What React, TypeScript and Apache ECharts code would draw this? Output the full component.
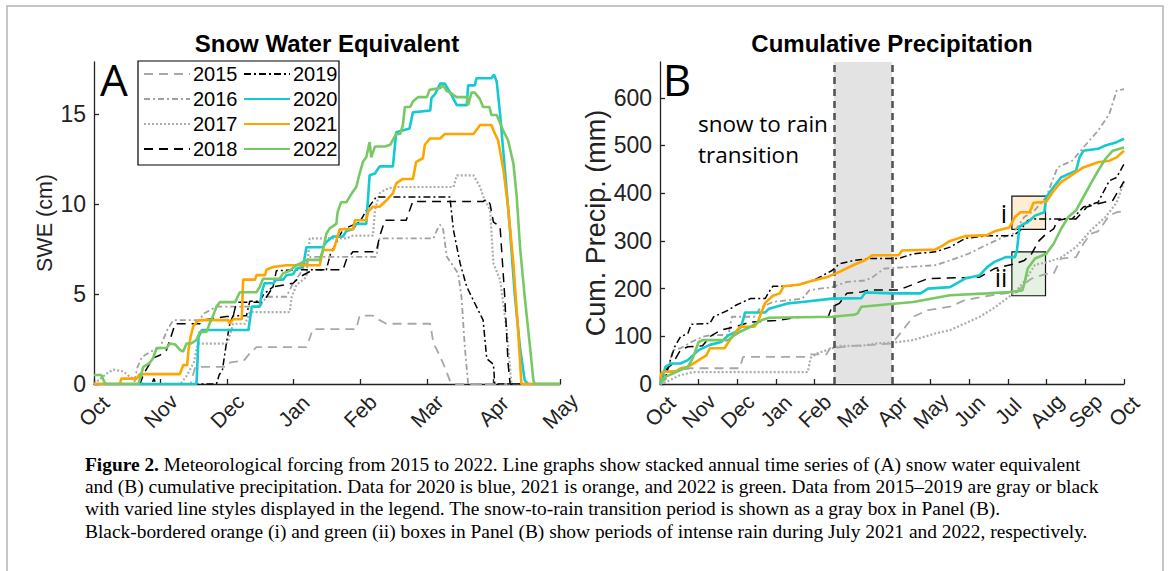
import React, { useEffect, useRef } from 'react';
import * as echarts from 'echarts';

// ---------- DATA ----------
const YEARS = ['2015', '2016', '2017', '2018', '2019', '2020', '2021', '2022'];
const SWE_MONTHS = ['Oct', 'Nov', 'Dec', 'Jan', 'Feb', 'Mar', 'Apr', 'May'];
const PRECIP_MONTHS = ['Oct', 'Nov', 'Dec', 'Jan', 'Feb', 'Mar', 'Apr', 'May', 'Jun', 'Jul', 'Aug', 'Sep', 'Oct'];
const SWE_TICKS = [0, 5, 10, 15];
const PRECIP_TICKS = [0, 100, 200, 300, 400, 500, 600];
const SWE_MAX = 17.9;
const PRECIP_MAX = 675;

// x = months since Oct 1, y = SWE (cm)
const swe2015 = [[0,0],[1.45,0],[1.52,0.95],[1.99,0.95],[2.05,1.2],[2.25,1.3],[2.34,1.7],[2.44,2.05],[3.19,2.05],[3.29,3.05],[3.94,3.05],[3.99,3.8],[4.19,3.8],[4.29,3.55],[4.39,3.35],[5.05,3.35],[5.1,2.25],[5.15,1.9],[5.245,1.15],[5.345,0.2],[5.395,0],[7,0]];
const swe2016 = [[0,0],[0.6,0],[0.65,0.9],[0.72,1.5],[0.85,1.8],[0.99,2.0],[1.1,3.0],[1.19,3.55],[1.59,3.55],[1.64,3.9],[1.84,4.3],[2.49,4.3],[2.59,4.85],[2.89,4.85],[2.99,5.6],[3.09,6.1],[3.25,7.07],[4.24,7.07],[4.29,8.1],[5.1,8.1],[5.15,8.55],[5.2,8.85],[5.245,8.6],[5.3,7.07],[5.37,6.7],[5.47,6.15],[5.52,4.85],[5.57,2.07],[5.62,0],[7,0]];
const swe2017 = [[0,0],[0.1,0.3],[0.2,0.6],[0.29,0.8],[0.44,0.7],[0.54,0.4],[0.64,0.2],[0.74,0],[1.3,0],[1.4,0.5],[1.5,1.2],[1.56,2.25],[1.99,2.25],[2.02,2.45],[2.09,3.35],[2.27,3.35],[2.34,4.0],[2.94,4.0],[2.97,4.85],[3.04,5.5],[3.19,5.95],[3.24,8.1],[3.79,8.1],[3.89,8.25],[4.19,8.25],[4.22,9.65],[4.29,10.6],[4.37,10.8],[4.49,10.95],[5.4,10.95],[5.45,11.6],[5.7,11.6],[5.8,10.95],[5.85,10.4],[5.95,9.65],[6.0,6.7],[6.1,5.8],[6.2,3.0],[6.27,0],[7,0]];
const swe2018 = [[0,0],[0.69,0],[0.75,0.6],[0.84,1.15],[0.89,1.45],[0.99,1.6],[1.09,1.9],[1.14,2.45],[1.22,3.35],[1.59,3.35],[1.64,3.55],[1.99,3.75],[2.09,3.75],[2.14,4.55],[2.54,4.55],[2.69,5.4],[2.99,5.6],[3.09,5.95],[3.29,6.35],[3.74,6.35],[3.79,6.9],[3.89,7.35],[4.24,7.35],[4.29,8.2],[4.37,9.1],[4.69,9.1],[4.74,9.65],[4.79,10.15],[5.85,10.15],[5.9,10.3],[5.95,10.0],[6.0,9.0],[6.1,8.75],[6.17,4.85],[6.22,1.15],[6.25,0],[7,0]];
const swe2019 = [[0,0],[0.87,0],[0.9,0.3],[0.93,0],[1.84,0],[1.88,0.5],[1.93,0.8],[1.99,2.3],[2.04,3.35],[2.09,3.8],[2.29,3.8],[2.34,4.6],[2.49,4.6],[2.55,5.0],[2.69,5.4],[2.74,6.3],[3.09,6.35],[3.49,6.35],[3.55,7.2],[3.74,8.6],[3.99,9.0],[4.1,9.7],[4.24,10.4],[5.345,10.4],[5.4,8.55],[5.5,6.7],[5.6,5.4],[5.745,4.3],[5.845,3.55],[5.9,1.4],[6.0,1.1],[6.02,0],[7,0]];
const swe2020 = [[0,0],[1.54,0],[1.57,2.6],[1.62,3.0],[2.32,3.0],[2.37,4.3],[2.49,4.3],[2.52,5.1],[2.56,5.6],[2.69,5.6],[2.74,5.8],[2.84,5.8],[2.89,6.05],[2.99,6.1],[3.04,6.4],[3.14,6.5],[3.19,7.6],[3.44,7.6],[3.49,7.9],[3.59,8.2],[3.74,8.2],[3.79,8.5],[3.89,8.6],[3.94,8.9],[4.09,8.9],[4.14,11.6],[4.22,11.7],[4.29,12.1],[4.49,12.1],[4.54,14.0],[4.74,14.2],[4.79,15.1],[5.05,15.2],[5.07,15.9],[5.12,16.1],[5.2,16.7],[5.27,16.7],[5.35,16.2],[5.45,15.5],[5.6,15.5],[5.62,16.6],[5.72,16.6],[5.745,17.0],[5.97,17.0],[6.01,17.2],[6.05,16.8],[6.1,15.0],[6.17,12.0],[6.25,8.5],[6.32,5.0],[6.4,2.0],[6.47,0.2],[6.52,0],[7,0]];
const swe2021 = [[0,0],[0.39,0],[0.41,0.3],[0.64,0.3],[0.69,0.55],[1.29,0.55],[1.34,1.05],[1.4,1.05],[1.42,1.9],[1.45,2.6],[1.49,3.2],[1.54,3.45],[1.59,3.55],[2.02,3.55],[2.04,3.35],[2.09,3.6],[2.22,3.6],[2.24,5.8],[2.42,5.8],[2.44,6.05],[2.57,6.05],[2.59,6.35],[2.69,6.5],[2.89,6.6],[3.39,6.6],[3.44,7.45],[3.6,7.45],[3.69,8.6],[3.89,8.6],[3.92,9.1],[4.09,9.1],[4.12,9.6],[4.19,9.85],[4.29,9.85],[4.39,10.2],[4.49,10.6],[4.54,11.15],[4.64,11.4],[4.79,11.4],[4.84,12.35],[4.94,12.55],[4.97,13.3],[5.05,13.65],[5.2,13.65],[5.27,13.9],[5.7,13.9],[5.8,14.4],[5.97,14.4],[6.0,14.1],[6.07,13.55],[6.15,11.9],[6.22,9.85],[6.3,6.7],[6.37,3.0],[6.42,0],[7,0]];
const swe2022 = [[0,0.5],[0.11,0.5],[0.17,0],[0.67,0],[0.74,0.95],[0.83,1.15],[0.89,1.45],[0.94,2.0],[1.09,2.0],[1.14,2.25],[1.22,2.2],[1.29,1.9],[1.34,1.8],[1.39,2.25],[1.46,2.25],[1.54,2.45],[1.59,2.9],[1.69,2.9],[1.74,3.4],[1.79,3.8],[1.84,4.3],[1.89,4.55],[2.12,4.55],[2.19,5.1],[2.44,5.1],[2.49,5.4],[2.54,5.85],[2.79,5.85],[2.84,6.15],[2.94,6.3],[3.04,6.6],[3.1,6.7],[3.2,6.9],[3.39,6.9],[3.44,7.45],[3.49,8.35],[3.54,8.65],[3.64,8.9],[3.66,9.55],[3.71,10.1],[3.79,10.1],[3.84,10.4],[3.89,10.7],[3.94,10.95],[3.99,11.7],[4.04,12.35],[4.09,12.6],[4.14,13.45],[4.165,12.6],[4.22,13.2],[4.37,13.2],[4.45,13.3],[4.54,13.9],[4.6,13.9],[4.64,14.4],[4.67,15.4],[4.75,15.4],[4.79,15.7],[4.87,15.95],[5.0,15.95],[5.04,16.35],[5.2,16.45],[5.245,16.6],[5.295,16.3],[5.35,16.2],[5.445,15.95],[5.6,15.95],[5.62,15.5],[5.67,16.2],[5.72,16.2],[5.795,15.85],[5.845,15.4],[5.94,15.4],[5.97,14.95],[6.05,14.95],[6.145,14.1],[6.22,13.55],[6.3,12.25],[6.35,10.4],[6.4,7.6],[6.47,4.85],[6.55,2.05],[6.6,0.2],[6.62,0],[7,0]];

// x = months since Oct 1, y = cumulative precipitation (mm)
const precip2015 = [[0,0],[0.15,10],[0.3,25],[0.78,33],[2.06,33],[2.15,57],[3.8,57],[3.9,62],[4.3,62],[4.4,75],[5.0,80],[5.5,82],[6.0,85],[6.3,115],[6.55,141],[6.93,155],[7.5,162],[7.89,176],[8.5,185],[8.94,190],[9.23,192],[9.42,210],[9.61,221],[9.99,231],[10.18,231],[10.37,263],[10.76,266],[10.95,294],[11.14,315],[11.33,320],[11.62,353],[11.81,360],[12,362]];
const precip2016 = [[0,0],[0.24,40],[0.33,71],[0.53,75],[0.81,88],[1.1,99],[1.29,102],[1.77,103],[1.86,141],[2.44,141],[2.6,160],[2.92,172],[3.68,179],[3.87,197],[4.45,203],[4.83,214],[5.31,217],[5.5,224],[5.8,242],[6.4,245],[7.12,249],[7.5,259],[7.98,273],[8.4,290],[8.8,305],[9.13,315],[9.42,350],[9.7,365],[9.99,392],[10.28,454],[10.66,468],[10.95,496],[11.33,531],[11.62,566],[11.81,615],[12,618]];
const precip2017 = [[0,0],[0.15,3],[0.3,10],[0.5,18],[0.85,25],[3.82,25],[3.9,55],[4.06,64],[4.64,80],[5.21,80],[5.6,85],[6.17,88],[6.55,92],[7.12,106],[7.5,113],[7.89,127],[8.27,141],[8.65,160],[9.03,183],[9.23,197],[9.42,215],[9.7,250],[9.99,255],[10.37,265],[10.76,287],[11.14,322],[11.52,350],[11.81,380],[12,425]];
const precip2018 = [[0,0],[0.14,29],[0.33,43],[0.53,71],[0.72,78],[1.1,80],[1.3,100],[1.58,113],[1.96,120],[2.34,130],[3.0,133],[3.68,141],[4.35,141],[4.45,162],[4.64,169],[4.83,190],[5.21,193],[5.4,197],[6.17,197],[6.93,221],[8.27,224],[8.65,242],[9.18,252],[9.42,259],[9.61,273],[9.8,300],[9.99,315],[10.18,325],[10.28,343],[10.47,346],[10.76,346],[11.04,371],[11.33,378],[11.71,385],[12,425]];
const precip2019 = [[0,0],[0.15,15],[0.24,43],[0.38,78],[0.53,99],[0.72,106],[0.81,125],[1.29,127],[1.39,141],[1.58,148],[1.77,155],[1.96,165],[2.15,172],[2.34,179],[2.72,179],[2.82,193],[2.92,205],[3.3,205],[3.68,210],[4.06,221],[4.45,238],[4.64,252],[5.02,259],[5.4,263],[6.17,263],[6.55,273],[7.12,277],[7.5,287],[7.89,305],[8.46,311],[9.13,311],[9.32,322],[9.51,343],[9.7,346],[10.66,346],[10.95,371],[11.33,381],[11.62,426],[11.81,433],[12,461]];
const precip2020 = [[0,0],[0.1,25],[0.14,36],[0.29,43],[0.53,43],[0.72,50],[0.85,60],[1.0,71],[1.29,82],[1.58,88],[1.77,102],[1.96,109],[2.1,120],[2.2,150],[2.72,150],[2.82,158],[3.3,169],[3.68,172],[4.45,179],[5.21,180],[5.31,192],[5.98,190],[6.74,190],[6.93,200],[7.5,203],[7.89,221],[8.27,228],[8.46,245],[8.65,256],[8.94,266],[9.18,266],[9.23,280],[9.3,330],[9.42,336],[9.51,339],[9.7,353],[9.94,360],[9.99,392],[10.18,413],[10.37,433],[10.56,440],[10.76,447],[10.85,475],[10.95,489],[11.33,493],[11.52,500],[11.81,507],[12,514]];
const precip2021 = [[0,10],[0.05,25],[0.43,27],[0.53,33],[0.72,36],[0.9,45],[1.0,50],[1.2,60],[1.29,75],[1.67,75],[1.77,88],[1.96,108],[2.06,120],[2.44,120],[2.53,130],[2.62,150],[2.72,170],[2.92,185],[3.1,190],[3.2,205],[3.59,208],[3.87,215],[4.35,225],[4.64,235],[5.02,250],[5.31,260],[5.5,270],[6.17,270],[6.26,280],[7.12,282],[7.31,290],[7.5,300],[7.89,310],[8.46,312],[8.65,320],[9.03,328],[9.18,350],[9.32,360],[9.56,360],[9.66,380],[9.99,382],[10.18,405],[10.37,423],[10.56,433],[10.76,444],[10.95,454],[11.33,465],[11.62,468],[11.81,475],[12,489]];
const precip2022 = [[0,0],[0.14,15],[0.33,22],[0.53,29],[0.72,36],[0.85,55],[1.0,88],[1.1,92],[1.77,92],[1.86,99],[2.06,109],[2.34,120],[2.63,134],[2.82,139],[4.45,141],[5.02,145],[5.11,148],[5.21,162],[6.55,172],[7.5,186],[8.46,190],[9.03,193],[9.37,196],[9.42,210],[9.51,242],[9.7,263],[9.99,273],[10.18,294],[10.37,325],[10.56,350],[10.76,364],[10.95,392],[11.14,420],[11.33,447],[11.52,472],[11.71,489],[12,496]];

const SWE_DATA = [swe2015, swe2016, swe2017, swe2018, swe2019, swe2020, swe2021, swe2022];
const PRECIP_DATA = [precip2015, precip2016, precip2017, precip2018, precip2019, precip2020, precip2021, precip2022];

// snow-to-rain transition (months since Oct 1) and intense-rain boxes [x, y]
const TRANSITION = [4.5, 6.0];
const BOX_I = [[9.1, 324], [9.97, 394]];
const BOX_II = [[9.1, 185], [9.97, 277]];

const CAPTION = [
  '{b|Figure 2.} Meteorological forcing from 2015 to 2022. Line graphs show stacked annual time series of (A) snow water equivalent',
  'and (B) cumulative precipitation. Data for 2020 is blue, 2021 is orange, and 2022 is green. Data from 2015\u20132019 are gray or black',
  'with varied line styles displayed in the legend. The snow-to-rain transition period is shown as a gray box in Panel (B).',
  'Black-bordered orange (i) and green (ii) boxes in Panel (B) show periods of intense rain during July 2021 and 2022, respectively.',
];

// ---------- STYLE ----------
const SANS = '"Liberation Sans", Arial, sans-serif';
const CAL = '"Open Sans", "Noto Sans", sans-serif';
const SERIF = '"Liberation Serif", "Times New Roman", serif';
const AX = '#222';
const CAPTION_SIZE = 19.4;

const LINE_STYLE: Record<string, any> = {
  '2015': { color: '#a8a8a8', width: 1.8, type: [9, 6] },
  '2016': { color: '#a0a0a0', width: 1.8, type: [6, 3, 2, 3] },
  '2017': { color: '#acacac', width: 2.2, type: [2, 2] },
  '2018': { color: '#000000', width: 1.5, type: [9, 6] },
  '2019': { color: '#000000', width: 1.5, type: [7, 3, 2, 3] },
  '2020': { color: '#14CAD2', width: 2.6, type: 'solid' },
  '2021': { color: '#FFA500', width: 2.6, type: 'solid' },
  '2022': { color: '#78C864', width: 2.6, type: 'solid' },
};

function xAxisOf(grid: number, names: string[]) {
  return {
    gridIndex: grid,
    type: 'value',
    min: 0,
    max: names.length - 1,
    interval: 1,
    axisLine: { show: true, lineStyle: { color: AX, width: 1.3 } },
    axisTick: { show: true, inside: true, length: 5, lineStyle: { color: AX, width: 1.3 } },
    axisLabel: {
      rotate: 45,
      align: 'center',
      verticalAlign: 'middle',
      fontSize: 21,
      fontFamily: SANS,
      color: AX,
      margin: 27,
      formatter: (v: number) => names[Math.round(v)] ?? '',
    },
    splitLine: { show: false },
  };
}

function yAxisOf(grid: number, max: number, ticks: number[], name: string, gap: number, nameSize: number) {
  return {
    gridIndex: grid,
    type: 'value',
    min: 0,
    max,
    axisLine: { show: true, lineStyle: { color: AX, width: 1.3 } },
    axisTick: { show: true, inside: true, length: 5, customValues: ticks, lineStyle: { color: AX, width: 1.3 } },
    axisLabel: { customValues: ticks, fontSize: 23, fontFamily: SANS, color: AX, margin: 8 },
    splitLine: { show: false },
    name,
    nameLocation: 'middle',
    nameRotate: 90,
    nameGap: gap,
    nameTextStyle: { fontSize: nameSize, fontFamily: SANS, color: AX, padding: [0, 0, 0, 0] },
  };
}

export default function App() {
  const ref = useRef<HTMLDivElement>(null);

  useEffect(() => {
    if (!ref.current) return;
    const chart = echarts.init(ref.current, undefined, { renderer: 'svg' });

    const series: any[] = [];
    // annotation carrier for panel B (drawn beneath the data lines)
    series.push({
      name: 'annotations',
      type: 'line',
      xAxisIndex: 1,
      yAxisIndex: 1,
      data: [],
      z: 1,
      silent: true,
      markArea: {
        silent: true,
        data: [
          [
            { xAxis: TRANSITION[0], itemStyle: { color: '#e3e3e3', borderWidth: 0 } },
            { xAxis: TRANSITION[1] },
          ],
          [
            { xAxis: BOX_I[0][0], yAxis: BOX_I[0][1], itemStyle: { color: 'rgba(255,190,100,0.28)', borderColor: '#111', borderWidth: 1.2 } },
            { xAxis: BOX_I[1][0], yAxis: BOX_I[1][1] },
          ],
          [
            { xAxis: BOX_II[0][0], yAxis: BOX_II[0][1], itemStyle: { color: 'rgba(150,205,140,0.25)', borderColor: '#111', borderWidth: 1.2 } },
            { xAxis: BOX_II[1][0], yAxis: BOX_II[1][1] },
          ],
        ],
      },
      markLine: {
        silent: true,
        symbol: 'none',
        label: { show: false },
        lineStyle: { color: '#555', width: 2.6, type: [7, 5] },
        data: TRANSITION.map((x) => ({ xAxis: x })),
      },
    });

    YEARS.forEach((y, i) => {
      const st = LINE_STYLE[y];
      const common = {
        name: y,
        type: 'line',
        symbol: 'none',
        showSymbol: false,
        silent: true,
        z: 2 + i,
        itemStyle: { color: st.color },
        lineStyle: { color: st.color, width: st.width, type: st.type },
        emphasis: { disabled: true },
      };
      series.push({ ...common, xAxisIndex: 0, yAxisIndex: 0, data: SWE_DATA[i] });
      series.push({ ...common, xAxisIndex: 1, yAxisIndex: 1, data: PRECIP_DATA[i] });
    });

    const legendCommon = {
      orient: 'vertical',
      top: 64,
      padding: 0,
      itemWidth: 46,
      itemHeight: 14,
      itemGap: 5,
      selectedMode: false,
      itemStyle: { opacity: 0, borderWidth: 0 },
      textStyle: { fontSize: 20, fontFamily: SANS, color: '#000', padding: [0, 0, 0, -2] },
    };

    const captionEls = CAPTION.map((t, i) => ({
      type: 'text',
      x: 85,
      y: 464 + i * 22.4,
      style: {
        text: t,
        fontSize: CAPTION_SIZE,
        fontFamily: SERIF,
        fill: '#000',
        verticalAlign: 'middle',
        rich: { b: { fontWeight: 'bold', fontSize: CAPTION_SIZE, fontFamily: SERIF, fill: '#000' } },
      },
    }));

    chart.setOption({
      animation: false,
      backgroundColor: '#fff',
      grid: [
        { left: 94, right: 610, top: 62, bottom: 187, containLabel: false },
        { left: 660, right: 46, top: 62, bottom: 187, containLabel: false },
      ],
      xAxis: [xAxisOf(0, SWE_MONTHS), xAxisOf(1, PRECIP_MONTHS)],
      yAxis: [
        yAxisOf(0, SWE_MAX, SWE_TICKS, 'SWE (cm)', 38, 21.5),
        yAxisOf(1, PRECIP_MAX, PRECIP_TICKS, 'Cum. Precip. (mm)', 46, 27),
      ],
      legend: [
        { ...legendCommon, left: 143, data: YEARS.slice(0, 4) },
        { ...legendCommon, left: 243, data: YEARS.slice(4) },
      ],
      series,
      graphic: [
        { type: 'rect', silent: true, shape: { x: 7, y: 6, width: 1156, height: 620 }, style: { fill: 'none', stroke: '#b4b4b4', lineWidth: 1.5 } },
        { type: 'rect', silent: true, shape: { x: 138, y: 61, width: 201, height: 104 }, style: { fill: 'none', stroke: '#000', lineWidth: 1.2 } },
        { type: 'text', x: 327, y: 43, style: { text: 'Snow Water Equivalent', fontSize: 24, fontWeight: 'bold', fontFamily: SANS, fill: '#000', align: 'center', verticalAlign: 'middle' } },
        { type: 'text', x: 892, y: 43, style: { text: 'Cumulative Precipitation', fontSize: 24, fontWeight: 'bold', fontFamily: SANS, fill: '#000', align: 'center', verticalAlign: 'middle' } },
        { type: 'text', x: 114, y: 79, style: { text: 'A', fontSize: 44, fontFamily: CAL, fill: '#000', align: 'center', verticalAlign: 'middle' } },
        { type: 'text', x: 677, y: 79, style: { text: 'B', fontSize: 44, fontFamily: CAL, fill: '#000', align: 'center', verticalAlign: 'middle' } },
        { type: 'text', x: 698, y: 123, style: { text: 'snow to rain', fontSize: 22.5, fontFamily: CAL, fill: '#000', verticalAlign: 'middle' } },
        { type: 'text', x: 698, y: 154, style: { text: 'transition', fontSize: 22.5, fontFamily: CAL, fill: '#000', verticalAlign: 'middle' } },
        { type: 'text', x: 1004, y: 213, style: { text: 'i', fontSize: 25, fontFamily: CAL, fill: '#000', align: 'center', verticalAlign: 'middle' } },
        { type: 'text', x: 1001, y: 277, style: { text: 'ii', fontSize: 25, fontFamily: CAL, fill: '#000', align: 'center', verticalAlign: 'middle' } },
        ...captionEls,
      ],
    });

    return () => chart.dispose();
  }, []);

  return (
    <div
      ref={ref}
      style={{ position: 'absolute', left: 0, top: 0, width: 1170, height: 571, background: '#fff' }}
    />
  );
}
